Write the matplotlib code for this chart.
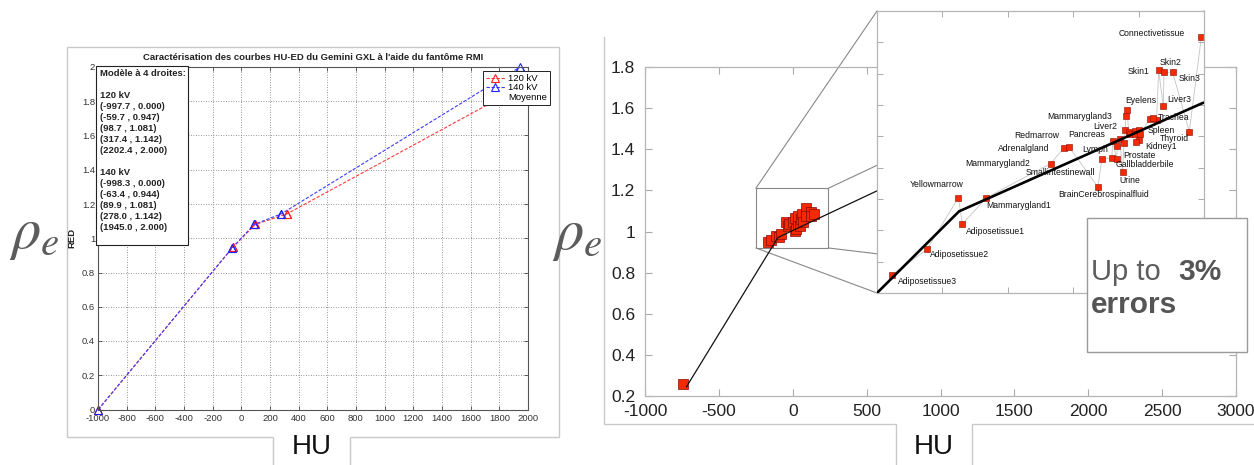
import numpy as np
import matplotlib
matplotlib.use("Agg")
import matplotlib.pyplot as plt
from matplotlib.patches import Rectangle, ConnectionPatch
from matplotlib.lines import Line2D

plt.rcParams['font.family'] = ['Liberation Sans', 'DejaVu Sans']
plt.rcParams['axes.unicode_minus'] = False
plt.rcParams['mathtext.fontset'] = 'stix'

W, H, DPI = 1254, 465, 100

# ---------------- Left panel: HU -> RED model, two tube voltages ----------------
hu_120 = [-997.7, -59.7, 98.7, 317.4, 2202.4]
red_120 = [0.000, 0.947, 1.081, 1.142, 2.000]
hu_140 = [-998.3, -63.4, 89.9, 278.0, 1945.0]
red_140 = [0.000, 0.944, 1.081, 1.142, 2.000]
left_xlim = (-1000, 2000)
left_ylim = (0, 2)
left_xticks = np.arange(-1000, 2001, 200)
left_yticks = np.arange(0, 2.001, 0.2)
left_title = "Caractérisation des courbes HU-ED du Gemini GXL à l'aide du fantôme RMI"

# ---------------- Right panel: measured points and bilinear fit ----------------
lung_hu = [-745]
lung_rho = [0.26]
cluster_hu = [-168, -145, -116, -94, -78, -44, -33, -22, 1, 12, 12, 24, 34, 34,
              46, 57, 64, 68, 91, 91, 125, 125, 147]
cluster_rho = [0.947, 0.959, 0.979, 0.971, 0.987, 1.045, 1.028, 1.036, 1.047, 1.003,
               1.064, 1.012, 1.036, 1.077, 1.028, 1.061, 1.085, 1.045, 1.113, 1.077,
               1.096, 1.077, 1.085]
fit_hu = [-719, -100, 2000]
fit_rho = [0.245, 0.971, 1.681]
right_xlim = (-1000, 3000)
right_ylim = (0.2, 1.8)
right_xticks = np.arange(-1000, 3001, 500)
right_yticks = np.arange(0.2, 1.801, 0.2)

# zoomed region shown in the inset
zoom_hu = [-250, 240]
zoom_rho = [0.92, 1.21]

# tissues shown in the inset
tissue_names = ["Adiposetissue3", "Adiposetissue2", "Yellowmarrow", "Adiposetissue1",
                "Mammarygland1", "Mammarygland2", "Adrenalgland", "Redmarrow",
                "BrainCerebrospinalfluid", "Smallintestinewall", "Lymph", "Pancreas",
                "Prostate", "Gallbladderbile", "Urine", "Liver2", "Mammarygland3",
                "Eyelens", "Spleen", "Kidney1", "Trachea", "Skin1", "Liver3", "Skin2",
                "Skin3", "Thyroid", "Connectivetissue"]
tissue_hu = [-227, -175, -128, -122, -86, 10, 30, 38, 81, 87, 102, 103, 110, 109,
             118, 122, 123, 125, 136, 143, 169, 172, 179, 180, 193, 218, 236]
tissue_rho = [0.939, 0.965, 1.018, 0.991, 1.018, 1.053, 1.069, 1.070, 1.029, 1.058,
              1.059, 1.076, 1.071, 1.058, 1.044, 1.088, 1.102, 1.108, 1.087, 1.077,
              1.098, 1.149, 1.112, 1.147, 1.147, 1.086, 1.183]
# further tissues without a label (crowded area)
other_hu = [114, 120, 127, 129, 137, 138, 143, 144, 159, 164]
other_rho = [1.078, 1.074, 1.086, 1.084, 1.084, 1.075, 1.088, 1.083, 1.099, 1.100]
inset_fit_hu = [-250, -127, 240]
inset_fit_rho = [0.92, 1.004, 1.116]

# label placement around each marker: (dx px, dy px, alignment)
label_offsets = {
    "Adiposetissue3": (6, -7, "left"), "Adiposetissue2": (3, -5, "left"),
    "Yellowmarrow": (-22, 13, "center"), "Adiposetissue1": (4, -8, "left"),
    "Mammarygland1": (0, -8, "left"), "Mammarygland2": (-20, 0, "right"),
    "Adrenalgland": (-14, 0, "right"), "Redmarrow": (-10, 12, "right"),
    "BrainCerebrospinalfluid": (6, -7, "center"), "Smallintestinewall": (-42, -14, "center"),
    "Lymph": (-17, 8, "center"), "Pancreas": (-7, 7, "right"),
    "Prostate": (6, -9, "left"), "Gallbladderbile": (-1, -6, "left"),
    "Urine": (-3, -8, "left"), "Liver2": (-8, 3, "right"),
    "Mammarygland3": (-14, 0, "right"), "Eyelens": (-2, 10, "left"),
    "Spleen": (13, 0, "left"), "Kidney1": (6, -6, "left"),
    "Trachea": (1, 2, "left"), "Skin1": (-9, -1, "right"),
    "Liver3": (4, 7, "left"), "Skin2": (-4, 10, "left"),
    "Skin3": (6, -6, "left"), "Thyroid": (0, -7, "right"),
    "Connectivetissue": (-16, 4, "right"),
}

RED = "#f52a05"
RED_EDGE = "#8a0a00"
GREY_TXT = "#5c5c5c"


def px_axes(x0, y0, x1, y1, **kw):
    """Axes placed by pixel box (x0, y0) top-left to (x1, y1) bottom-right."""
    return fig.add_axes([x0 / W, 1 - y1 / H, (x1 - x0) / W, (y1 - y0) / H], **kw)


fig = plt.figure(figsize=(W / DPI, H / DPI), dpi=DPI, facecolor="white")

# ---------------- left axes ----------------
axL = px_axes(98, 67, 528, 409.5, zorder=1)
axL.set_xlim(*left_xlim)
axL.set_ylim(*left_ylim)
axL.set_xticks(left_xticks)
axL.set_xticklabels([f"{v:g}" for v in left_xticks])
axL.set_yticks(left_yticks)
axL.set_yticklabels([f"{v:g}" for v in np.round(left_yticks, 1)])
axL.tick_params(direction="in", length=3, width=0.6, color="#444", top=True, right=True,
                labelsize=6.8, pad=2, labelcolor="#333")
axL.tick_params(axis="x", pad=3)
axL.grid(True, ls=(0, (1, 2)), lw=0.6, color="#777")
for s in axL.spines.values():
    s.set_color("#555")
    s.set_linewidth(0.8)

dash = (0, (3, 1.5))
l120, = axL.plot(hu_120, red_120, color="#ff3b3b", ls=dash, lw=0.8, marker="^",
                 mfc="none", mec="#ff2020", ms=5.5, mew=0.8, label="120 kV")
l140, = axL.plot(hu_140, red_140, color="#3b3bff", ls=dash, lw=0.8, marker="^",
                 mfc="none", mec="#2020ff", ms=5.5, mew=0.8, label="140 kV")
for hu, red, c in ((hu_120, red_120, "#ff2020"), (hu_140, red_140, "#2020ff")):
    hu_a, red_a = np.array(hu), np.array(red)
    keep = hu_a <= left_xlim[1]
    axL.plot(hu_a[keep], red_a[keep], ls="none", marker="^", mfc="none", mec=c,
             ms=5.5, mew=0.8, clip_on=False)
mean_handle = Line2D([], [], ls="none", label="Moyenne")
leg = axL.legend(handles=[l120, l140, mean_handle], loc="upper right",
                 bbox_to_anchor=(550 / W, 1 - 71 / H), bbox_transform=fig.transFigure,
                 borderaxespad=0, fontsize=6.8, frameon=True, fancybox=False,
                 framealpha=1, edgecolor="#222", borderpad=0.3, labelspacing=0.05,
                 handlelength=2.0, handletextpad=0.4, numpoints=1)
leg.get_frame().set_linewidth(0.7)

# ---------------- right main axes ----------------
axR = px_axes(645, 67, 1236, 396, zorder=1)
axR.set_xlim(*right_xlim)
axR.set_ylim(*right_ylim)
axR.set_xticks(right_xticks)
axR.set_xticklabels([f"{v:g}" for v in right_xticks])
axR.set_yticks(right_yticks)
axR.set_yticklabels([f"{v:g}" for v in np.round(right_yticks, 1)])
axR.tick_params(direction="in", length=5, width=0.8, color="#aaa", top=True, right=True,
                labelsize=12.5, labelcolor="#222")
axR.tick_params(axis="y", pad=7)
axR.tick_params(axis="x", pad=6)
for s in axR.spines.values():
    s.set_color("#b5b5b5")
    s.set_linewidth(0.9)

axR.add_patch(Rectangle((zoom_hu[0], zoom_rho[0]), zoom_hu[1] - zoom_hu[0],
                        zoom_rho[1] - zoom_rho[0], fill=False, ec="#888", lw=0.8, zorder=2))
axR.plot(lung_hu, lung_rho, ls="none", marker="s", ms=7.5, mfc=RED, mec=RED_EDGE,
         mew=0.5, zorder=3)
axR.plot(cluster_hu, cluster_rho, ls="none", marker="s", ms=7.2, mfc=RED, mec=RED_EDGE,
         mew=0.5, zorder=3)
axR.plot(fit_hu, fit_rho, color="#111", lw=0.9, zorder=4)

# ---------------- inset ----------------
axI = px_axes(877, 11, 1204, 293, zorder=2)
axI.set_xlim(*zoom_hu)
axI.set_ylim(*zoom_rho)
axI.set_xticks(np.linspace(zoom_hu[0], zoom_hu[1], 6)[1:-1])
axI.set_yticks(np.linspace(zoom_rho[0], zoom_rho[1], 10)[1:-1])
axI.tick_params(direction="in", length=4, width=0.7, color="#aaa", top=True, right=True,
                labelbottom=False, labelleft=False)
for s in axI.spines.values():
    s.set_color("#b5b5b5")
    s.set_linewidth(0.9)
axI.set_facecolor("white")

# connectors from the zoom box to the inset corners (drawn under the inset)
for cx in (0, 1):
    for cy in (0, 1):
        cp = ConnectionPatch(xyA=(zoom_hu[cx], zoom_rho[cy]), coordsA=axR.transData,
                             xyB=(cx, cy), coordsB=axI.transAxes, color="#888", lw=0.8)
        cp.set_clip_on(False)
        axR.add_artist(cp)

all_hu = np.array(tissue_hu + other_hu)
all_rho = np.array(tissue_rho + other_rho)
order = np.argsort(all_hu, kind="stable")
axI.plot(all_hu[order], all_rho[order], color="#c4c4c4", lw=0.6, zorder=1)
axI.plot(all_hu, all_rho, ls="none", marker="s", ms=4.3, mfc=RED, mec=RED_EDGE,
         mew=0.4, zorder=2)
axI.plot(inset_fit_hu, inset_fit_rho, color="black", lw=1.9, zorder=3,
         solid_capstyle="butt")
for name, x, y in zip(tissue_names, tissue_hu, tissue_rho):
    dx, dy, ha = label_offsets[name]
    axI.annotate(name, (x, y), xytext=(dx, dy), textcoords="offset pixels",
                 ha=ha, va="center", fontsize=6.2, color="#111", zorder=4)

# ---------------- overlay in pixel coordinates ----------------
ov = fig.add_axes([0, 0, 1, 1], zorder=5)
ov.set_xlim(0, W)
ov.set_ylim(H, 0)
ov.axis("off")
ov.patch.set_visible(False)

frame_kw = dict(color="#c9c9c9", lw=1.0, solid_joinstyle="miter")
ov.plot([273, 273, 67, 67, 559, 559, 350, 350], [465, 437, 437, 47, 47, 437, 437, 465],
        **frame_kw)
ov.plot([604, 604, 896, 896], [37, 424, 424, 465], **frame_kw)
ov.plot([972, 972, 1254], [465, 424, 424], **frame_kw)

ov.text(313, 57, left_title, ha="center", va="center", fontsize=6.8, fontweight="bold",
        color="#222")
ov.text(72, 238, "RED", rotation=90, ha="center", va="center", fontsize=6.8,
        fontweight="bold", color="#222")

# model summary box
ov.add_patch(Rectangle((96, 66), 92, 179, fc="white", ec="#222", lw=0.8))
box_lines = ["Modèle à 4 droites:", "", "120 kV"]
box_lines += [f"({x:.1f} , {y:.3f})" for x, y in zip(hu_120, red_120)]
box_lines += ["", "140 kV"]
box_lines += [f"({x:.1f} , {y:.3f})" for x, y in zip(hu_140, red_140)]
for i, s in enumerate(box_lines):
    ov.text(100, 73 + 11 * i, s, ha="left", va="center", fontsize=6.8,
            fontweight="bold", color="#222")

# axis titles
ov.text(312, 447, "HU", ha="center", va="center", fontsize=20, color="#111")
ov.text(934, 447, "HU", ha="center", va="center", fontsize=20, color="#111")
ov.text(9, 248, r"$\rho_e$", ha="left", va="baseline", fontsize=42, color=GREY_TXT)
ov.text(552, 249, r"$\rho_e$", ha="left", va="baseline", fontsize=42, color=GREY_TXT)

# error note
ov.add_patch(Rectangle((1087, 218), 160, 134, fc="white", ec="#9a9a9a", lw=1.0))
ov.text(1091, 280, "Up to", ha="left", va="baseline", fontsize=21, color="#5e5e5e",
        fontweight="normal")
ov.text(1178, 280, "3%", ha="left", va="baseline", fontsize=21.5, color="#555",
        fontweight="bold")
ov.text(1091, 313, "errors", ha="left", va="baseline", fontsize=21.5, color="#555",
        fontweight="bold")

fig.savefig("out.png", dpi=DPI, facecolor="white")
